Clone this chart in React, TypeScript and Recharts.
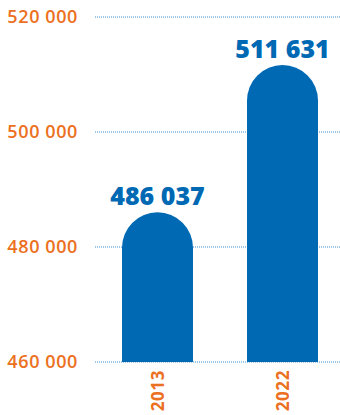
import React from "react";
import { BarChart, Bar, XAxis, YAxis, CartesianGrid, LabelList } from "recharts";

const years = ["2013", "2022"];
const values = [486037, 511631];
const valueLabels = ["486 037", "511 631"];
const yTicks = [460000, 480000, 500000, 520000];
const yTickLabels = ["460 000", "480 000", "500 000", "520 000"];

const data = years.map((y, i) => ({ year: y, value: values[i], label: valueLabels[i] }));

const ORANGE = "#ec7021";
const BLUE = "#0069b4";
const FONT = "'Open Sans', sans-serif";

const YTick = (props: any) => {
  const { x, y, payload } = props;
  const idx = yTicks.indexOf(payload.value);
  return (
    <text x={x} y={y} dy={6} textAnchor="end" fill={ORANGE} fontSize={18} fontWeight={600} fontFamily={FONT} letterSpacing={0.6}>
      {idx >= 0 ? yTickLabels[idx] : payload.value}
    </text>
  );
};

const XTick = (props: any) => {
  const { x, y, payload } = props;
  return (
    <text
      x={x}
      y={y}
      transform={`rotate(-90 ${x} ${y})`}
      dy={6}
      textAnchor="end"
      fill={ORANGE}
      fontSize={17}
      fontWeight={700}
      fontFamily={FONT}
      letterSpacing={0.6}
    >
      {payload.value}
    </text>
  );
};

export default function App() {
  return (
    <div style={{ position: "absolute", left: 0, top: 0 }}>
      <BarChart
        width={340}
        height={415}
        data={data}
        margin={{ top: 17, right: -5, bottom: 0, left: 0 }}
      >
        <CartesianGrid vertical={false} stroke="#3f8fd0" strokeDasharray="1 1" strokeWidth={1} />
        <YAxis
          domain={[460000, 520000]}
          ticks={yTicks}
          width={95}
          axisLine={false}
          tickLine={false}
          tickMargin={11}
          tick={<YTick />}
          interval={0}
        />
        <XAxis
          dataKey="year"
          height={53}
          axisLine={false}
          tickLine={false}
          tickMargin={2}
          tick={<XTick />}
          interval={0}
        />
        <Bar dataKey="value" fill={BLUE} barSize={71} radius={[35.5, 35.5, 0, 0]} isAnimationActive={false}>
          <LabelList
            dataKey="label"
            position="top"
            offset={7}
            fill={BLUE}
            fontSize={25}
            fontWeight={800}
            fontFamily={FONT}
          />
        </Bar>
      </BarChart>
    </div>
  );
}
